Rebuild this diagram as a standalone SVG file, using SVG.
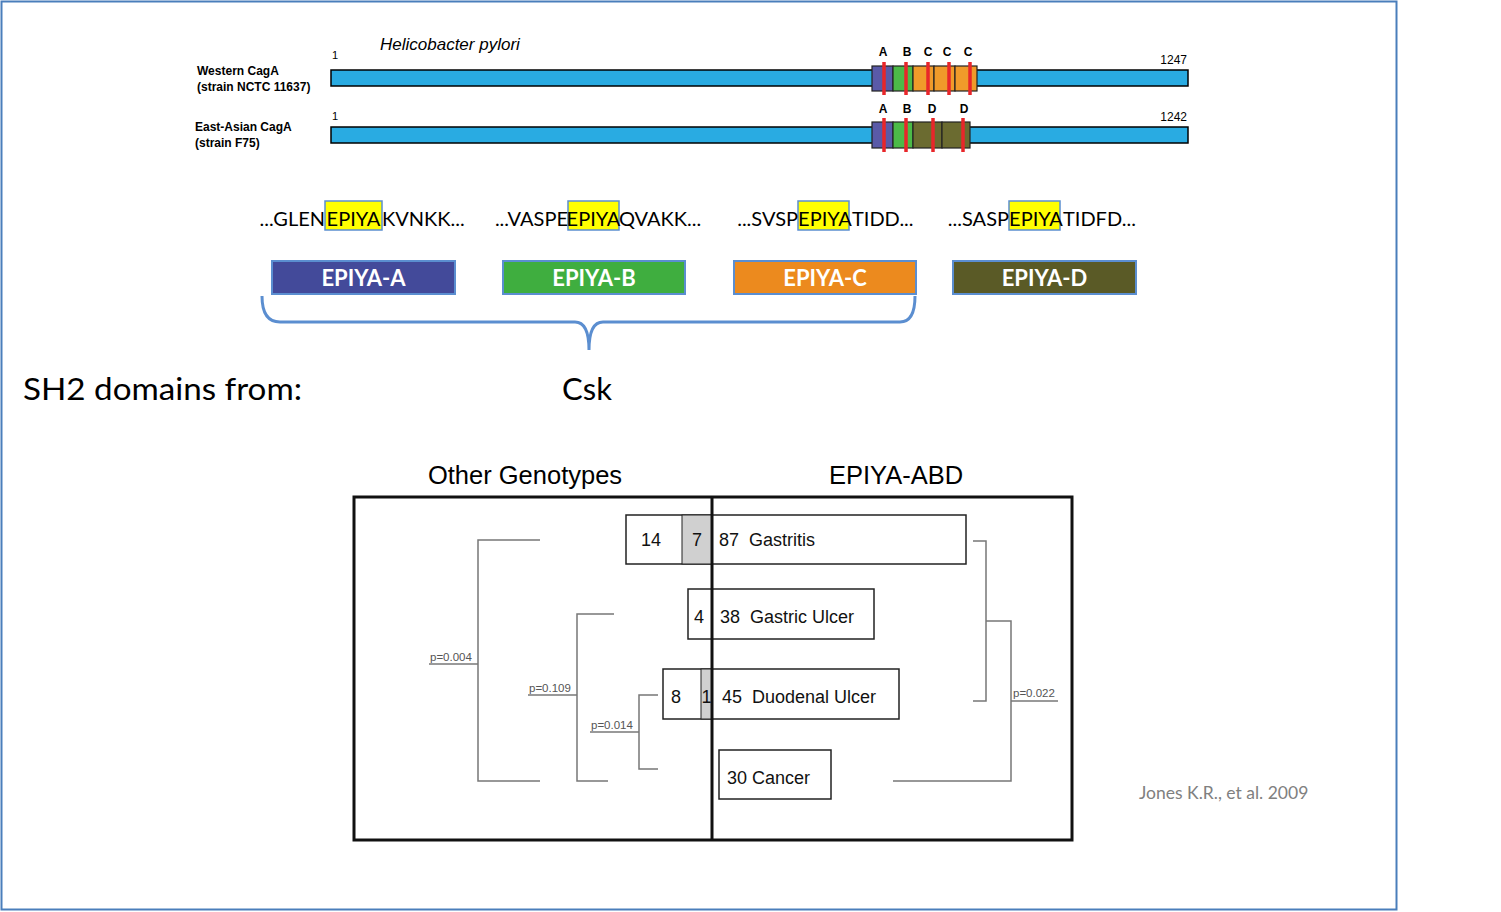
<svg xmlns="http://www.w3.org/2000/svg" width="1501" height="912" viewBox="0 0 1501 912">
<style>
.lbl{font-family:"Liberation Sans",Arial,sans-serif;fill:#000}
.lato{font-family:Lato,"Open Sans",sans-serif}
.bar{fill:#29abe2;stroke:#000;stroke-width:1.5}
.seg{stroke:#222;stroke-width:1.2}
.red{stroke:#e8262a;stroke-width:3.5}
.hl{fill:#ffff00;stroke:#5b8ed0;stroke-width:1.5}
.ebox{stroke:#5b8ed0;stroke-width:2}
.etxt{font-family:Lato,"Open Sans",sans-serif;font-weight:bold;font-size:22px;fill:#fff;text-anchor:middle}
.seq{font-family:Lato,"Open Sans",sans-serif;font-size:20px;fill:#000}
.cell{fill:#fff;stroke:#222;stroke-width:1.5}
.ct{font-family:"Liberation Sans",Arial,sans-serif;font-size:18px;fill:#111}
.br{fill:none;stroke:#777;stroke-width:1.5}
.pv{font-family:"Liberation Sans",Arial,sans-serif;font-size:11.5px;fill:#555}
</style>
<rect x="0" y="0" width="1501" height="912" fill="#fff"/>
<rect x="1.5" y="1.5" width="1395" height="908" fill="none" stroke="#4a7ebb" stroke-width="2"/>

<g id="header">
<text x="380" y="50" class="lbl" font-size="17" font-style="italic" font-family="Open Sans,sans-serif">Helicobacter pylori</text>
</g>

<g id="western">
<text x="197" y="75" class="lbl" font-size="12" font-weight="bold">Western CagA</text>
<text x="197" y="91" class="lbl" font-size="12" font-weight="bold">(strain NCTC 11637)</text>
<text x="332" y="59" class="lbl" font-size="11">1</text>
<text x="1187" y="64" class="lbl" font-size="12" text-anchor="end">1247</text>
<rect x="331" y="70" width="857" height="16" class="bar"/>
<rect x="872" y="66" width="21" height="25" fill="#5a5aa8" class="seg"/>
<rect x="893" y="66" width="20" height="25" fill="#4cba48" class="seg"/>
<rect x="913" y="66" width="21" height="25" fill="#f09a2a" class="seg"/>
<rect x="934" y="66" width="21" height="25" fill="#f09a2a" class="seg"/>
<rect x="955" y="66" width="22" height="25" fill="#f09a2a" class="seg"/>
<line x1="884" y1="62" x2="884" y2="95" class="red"/>
<line x1="906" y1="62" x2="906" y2="95" class="red"/>
<line x1="928" y1="62" x2="928" y2="95" class="red"/>
<line x1="949" y1="62" x2="949" y2="95" class="red"/>
<line x1="970" y1="62" x2="970" y2="95" class="red"/>
<g class="lbl" font-size="12" font-weight="bold" text-anchor="middle">
<text x="883" y="56">A</text><text x="907" y="56">B</text><text x="928" y="56">C</text><text x="947" y="56">C</text><text x="968" y="56">C</text>
</g>
</g>

<g id="eastasian">
<text x="195" y="131" class="lbl" font-size="12" font-weight="bold">East-Asian CagA</text>
<text x="195" y="147" class="lbl" font-size="12" font-weight="bold">(strain F75)</text>
<text x="332" y="120" class="lbl" font-size="11">1</text>
<text x="1187" y="121" class="lbl" font-size="12" text-anchor="end">1242</text>
<rect x="331" y="127" width="857" height="16" class="bar"/>
<rect x="872" y="122" width="21" height="26" fill="#5a5aa8" class="seg"/>
<rect x="893" y="122" width="20" height="26" fill="#4cba48" class="seg"/>
<rect x="913" y="122" width="29" height="26" fill="#6b6b30" class="seg"/>
<rect x="942" y="122" width="28" height="26" fill="#6b6b30" class="seg"/>
<line x1="884" y1="118" x2="884" y2="152" class="red"/>
<line x1="906" y1="118" x2="906" y2="152" class="red"/>
<line x1="933" y1="118" x2="933" y2="152" class="red"/>
<line x1="963" y1="118" x2="963" y2="152" class="red"/>
<g class="lbl" font-size="12" font-weight="bold" text-anchor="middle">
<text x="883" y="113">A</text><text x="907" y="113">B</text><text x="932" y="113">D</text><text x="964" y="113">D</text>
</g>
</g>

<g id="seqA">
<rect x="325" y="201" width="57" height="29" class="hl"/>
<text x="325" y="226" class="seq" text-anchor="end">...GLEN</text>
<text x="353.5" y="226" class="seq" text-anchor="middle">EPIYA</text>
<text x="382" y="226" class="seq">KVNKK...</text>
</g>
<g id="seqB">
<rect x="568" y="201" width="51" height="29" class="hl"/>
<text x="568" y="226" class="seq" text-anchor="end">...VASPE</text>
<text x="593.5" y="226" class="seq" text-anchor="middle">EPIYA</text>
<text x="619" y="226" class="seq">QVAKK...</text>
</g>
<g id="seqC">
<rect x="798" y="201" width="51" height="29" class="hl"/>
<text x="798" y="226" class="seq" text-anchor="end">...SVSP</text>
<text x="825" y="226" class="seq" text-anchor="middle">EPIYA</text>
<text x="852" y="226" class="seq">TIDD...</text>
</g>
<g id="seqD">
<rect x="1009" y="201" width="51" height="29" class="hl"/>
<text x="1009" y="226" class="seq" text-anchor="end">...SASP</text>
<text x="1036" y="226" class="seq" text-anchor="middle">EPIYA</text>
<text x="1063" y="226" class="seq">TIDFD...</text>
</g>

<g id="epiyaA"><rect x="272" y="261" width="183" height="33" fill="#434a9a" class="ebox"/><text x="363.5" y="286" class="etxt">EPIYA-A</text></g>
<g id="epiyaB"><rect x="503" y="261" width="182" height="33" fill="#3fae3f" class="ebox"/><text x="594" y="286" class="etxt">EPIYA-B</text></g>
<g id="epiyaC"><rect x="734" y="261" width="182" height="33" fill="#ec8a1e" class="ebox"/><text x="825" y="286" class="etxt">EPIYA-C</text></g>
<g id="epiyaD"><rect x="953" y="261" width="183" height="33" fill="#5a5a26" class="ebox"/><text x="1044.5" y="286" class="etxt">EPIYA-D</text></g>

<g id="brace">
<path d="M262 296 Q262 322 280 322 L575 322 Q589 322 589 350 Q589 322 603 322 L900 322 Q915 322 915 296" fill="none" stroke="#5b8ed0" stroke-width="3"/>
</g>

<g id="sh2">
<text x="23" y="400" class="lato" font-size="31" fill="#000" textLength="279" lengthAdjust="spacingAndGlyphs">SH2 domains from:</text>
<text x="562" y="400" class="lato" font-size="31" fill="#000">Csk</text>
</g>

<g id="chart">
<text x="525" y="484" class="lbl" font-size="25.5" text-anchor="middle" fill="#222">Other Genotypes</text>
<text x="896" y="484" class="lbl" font-size="25.5" text-anchor="middle" fill="#222">EPIYA-ABD</text>
<rect x="354" y="497" width="718" height="343" fill="none" stroke="#111" stroke-width="3"/>
</g>

<g id="gastritis">
<rect x="626" y="515" width="340" height="49" class="cell"/>
<rect x="682" y="515" width="30" height="49" fill="#d0d0d0" stroke="#222" stroke-width="1"/>
<text x="651" y="546" class="ct" text-anchor="middle">14</text>
<text x="697" y="546" class="ct" text-anchor="middle">7</text>
<text x="719" y="546" class="ct" xml:space="preserve">87  Gastritis</text>
</g>
<g id="gastriculcer">
<rect x="688" y="589" width="186" height="50" class="cell"/>
<text x="699" y="623" class="ct" text-anchor="middle">4</text>
<text x="720" y="623" class="ct" xml:space="preserve">38  Gastric Ulcer</text>
</g>
<g id="duodenal">
<rect x="663" y="669" width="236" height="50" class="cell"/>
<rect x="701" y="669" width="11" height="50" fill="#d0d0d0" stroke="#222" stroke-width="1"/>
<text x="676" y="703" class="ct" text-anchor="middle">8</text>
<text x="706.5" y="703" class="ct" text-anchor="middle">1</text>
<text x="722" y="703" class="ct" xml:space="preserve">45  Duodenal Ulcer</text>
</g>
<g id="cancer">
<rect x="719" y="750" width="112" height="49" class="cell"/>
<text x="727" y="784" class="ct">30 Cancer</text>
</g>

<line x1="712" y1="497" x2="712" y2="840" stroke="#111" stroke-width="3"/>

<g id="connectors">
<path d="M540 540 H478 V781 H540" class="br"/>
<path d="M429 664 H478" class="br"/>
<path d="M614 614 H577 V781 H608" class="br"/>
<path d="M528 695 H577" class="br"/>
<path d="M658 695 H639 V769 H658" class="br"/>
<path d="M590 732 H639" class="br"/>
<path d="M973 541 H986 V701 H973" class="br"/>
<path d="M986 621 H1011 V781 H893" class="br"/>
<path d="M1011 701 H1058" class="br"/>
</g>
<g id="pvalues">
<text x="430" y="661" class="pv">p=0.004</text>
<text x="529" y="692" class="pv">p=0.109</text>
<text x="591" y="729" class="pv">p=0.014</text>
<text x="1013" y="697" class="pv">p=0.022</text>
</g>

<g id="citation">
<text x="1139" y="799" class="lato" font-size="17.5" fill="#808080">Jones K.R., et al. 2009</text>
</g>
</svg>
